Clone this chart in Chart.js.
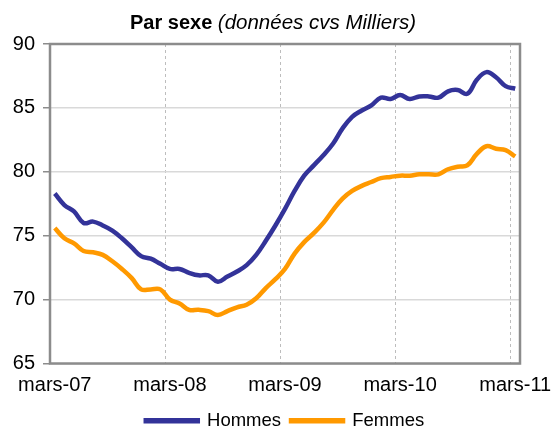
<!DOCTYPE html>
<html lang="fr">
<head>
<meta charset="utf-8">
<title>Par sexe</title>
<script src="https://cdn.jsdelivr.net/npm/chart.js@4/dist/chart.umd.min.js"></script>
<style>
    html, body { margin: 0; padding: 0; background: #fff; overflow: hidden; }
    #wrap { width: 554px; height: 440px; }
</style>
</head>
<body>
<div id="wrap"><canvas id="chart" width="554" height="440"></canvas></div>
<script>
// Mois (mars-07 à mars-11)
const months = [
    'mars-07', 'avr-07', 'mai-07', 'juin-07', 'juil-07', 'août-07', 'sept-07', 'oct-07', 'nov-07', 'déc-07', 'janv-08', 'févr-08',
    'mars-08', 'avr-08', 'mai-08', 'juin-08', 'juil-08', 'août-08', 'sept-08', 'oct-08', 'nov-08', 'déc-08', 'janv-09', 'févr-09',
    'mars-09', 'avr-09', 'mai-09', 'juin-09', 'juil-09', 'août-09', 'sept-09', 'oct-09', 'nov-09', 'déc-09', 'janv-10', 'févr-10',
    'mars-10', 'avr-10', 'mai-10', 'juin-10', 'juil-10', 'août-10', 'sept-10', 'oct-10', 'nov-10', 'déc-10', 'janv-11', 'févr-11',
    'mars-11'
];

// Demandeurs, données cvs en milliers
const hommes = [
    78.3, 77.4, 76.9, 76.0, 76.1, 75.8, 75.4, 74.8, 74.1, 73.4, 73.2, 72.8,
    72.4, 72.4, 72.1, 71.9, 71.9, 71.4, 71.8, 72.2, 72.7, 73.5, 74.6, 75.8,
    77.1, 78.5, 79.7, 80.5, 81.3, 82.2, 83.4, 84.3, 84.8, 85.2, 85.8, 85.7,
    86.0, 85.7, 85.9, 85.9, 85.8, 86.3, 86.4, 86.1, 87.2, 87.8, 87.4, 86.7,
    86.5
];
const femmes = [
    75.6, 74.8, 74.4, 73.8, 73.7, 73.5, 73.0, 72.4, 71.7, 70.8, 70.8, 70.8,
    70.0, 69.7, 69.2, 69.2, 69.1, 68.8, 69.1, 69.4, 69.6, 70.1, 70.9, 71.6,
    72.4, 73.6, 74.5, 75.2, 76.0, 77.0, 77.9, 78.5, 78.9, 79.2, 79.5, 79.6,
    79.7, 79.7, 79.8, 79.8, 79.8, 80.2, 80.4, 80.5, 81.4, 82.0, 81.8, 81.7,
    81.2
];

const yMin = 65;
const yMax = 90;
const yStep = 5;

const FONT = '"Liberation Sans", Arial, sans-serif';
const BLUE = '#333399';
const ORANGE = '#ff9900';

// Titre avec deux styles (gras + italique)
const titlePlugin = {
    id: 'mixedTitle',
    afterDraw(chart) {
        const ctx = chart.ctx;
        const bold = 'Par sexe ';
        const italic = '(données cvs Milliers)';
        ctx.save();
        ctx.fillStyle = '#000';
        ctx.textBaseline = 'alphabetic';
        ctx.font = 'bold 20px ' + FONT;
        const wb = ctx.measureText(bold).width;
        ctx.font = 'italic 20.5px ' + FONT;
        const wi = ctx.measureText(italic).width;
        let x = 273 - (wb + wi) / 2;
        ctx.font = 'bold 20px ' + FONT;
        ctx.fillText(bold, x, 29);
        ctx.font = 'italic 20.5px ' + FONT;
        ctx.fillText(italic, x + wb, 29);
        ctx.restore();
    }
};

// Cadre gris autour de la zone de tracé
const framePlugin = {
    id: 'frame',
    afterDatasetsDraw(chart) {
        const a = chart.chartArea;
        const ctx = chart.ctx;
        ctx.save();
        ctx.strokeStyle = '#8c8c8c';
        ctx.lineWidth = 2.5;
        ctx.strokeRect(a.left, a.top, a.right - a.left, a.bottom - a.top);
        ctx.restore();
    }
};

new Chart(document.getElementById('chart'), {
    type: 'line',
    data: {
        labels: months,
        datasets: [
            {
                label: 'Hommes',
                data: hommes,
                borderColor: BLUE,
                backgroundColor: BLUE,
                borderWidth: 4.5,
                pointRadius: 0,
                tension: 0.4
            },
            {
                label: 'Femmes',
                data: femmes,
                borderColor: ORANGE,
                backgroundColor: ORANGE,
                borderWidth: 4.5,
                pointRadius: 0,
                tension: 0.4
            }
        ]
    },
    options: {
        responsive: false,
        animation: false,
        layout: { padding: { top: 44, right: 34, left: 0, bottom: 0 } },
        scales: {
            x: {
                type: 'category',
                offset: true,
                grid: {
                    offset: true,
                    drawTicks: false,
                    lineWidth: 1,
                    color: (c) => (c.index > 0 && c.index % 12 === 0) ? '#bdbdbd' : 'rgba(0,0,0,0)'
                },
                border: { display: false, dash: [3, 3] },
                ticks: {
                    autoSkip: false,
                    maxRotation: 0,
                    minRotation: 0,
                    padding: 10,
                    color: '#000',
                    font: { family: FONT, size: 20 },
                    callback: function (value, index) {
                        return index % 12 === 0 ? this.getLabelForValue(value) : '';
                    }
                },
                afterFit: (scale) => {
                    scale.height = 38;
                    scale.paddingLeft = 0;
                    scale.paddingRight = 0;
                }
            },
            y: {
                min: yMin,
                max: yMax,
                ticks: {
                    stepSize: yStep,
                    padding: 8,
                    color: '#000',
                    font: { family: FONT, size: 20 }
                },
                grid: {
                    color: '#d9d9d9',
                    lineWidth: 1.5,
                    tickLength: 7,
                    tickColor: '#8c8c8c',
                    tickWidth: 1.5
                },
                border: { display: false },
                afterFit: (scale) => { scale.width = 50; }
            }
        },
        plugins: {
            legend: {
                position: 'bottom',
                fullSize: false,
                labels: {
                    boxWidth: 52,
                    boxHeight: 1,
                    padding: 10,
                    color: '#000',
                    font: { family: FONT, size: 18.5 }
                }
            },
            tooltip: { enabled: false }
        }
    },
    plugins: [titlePlugin, framePlugin]
});
</script>
</body>
</html>
